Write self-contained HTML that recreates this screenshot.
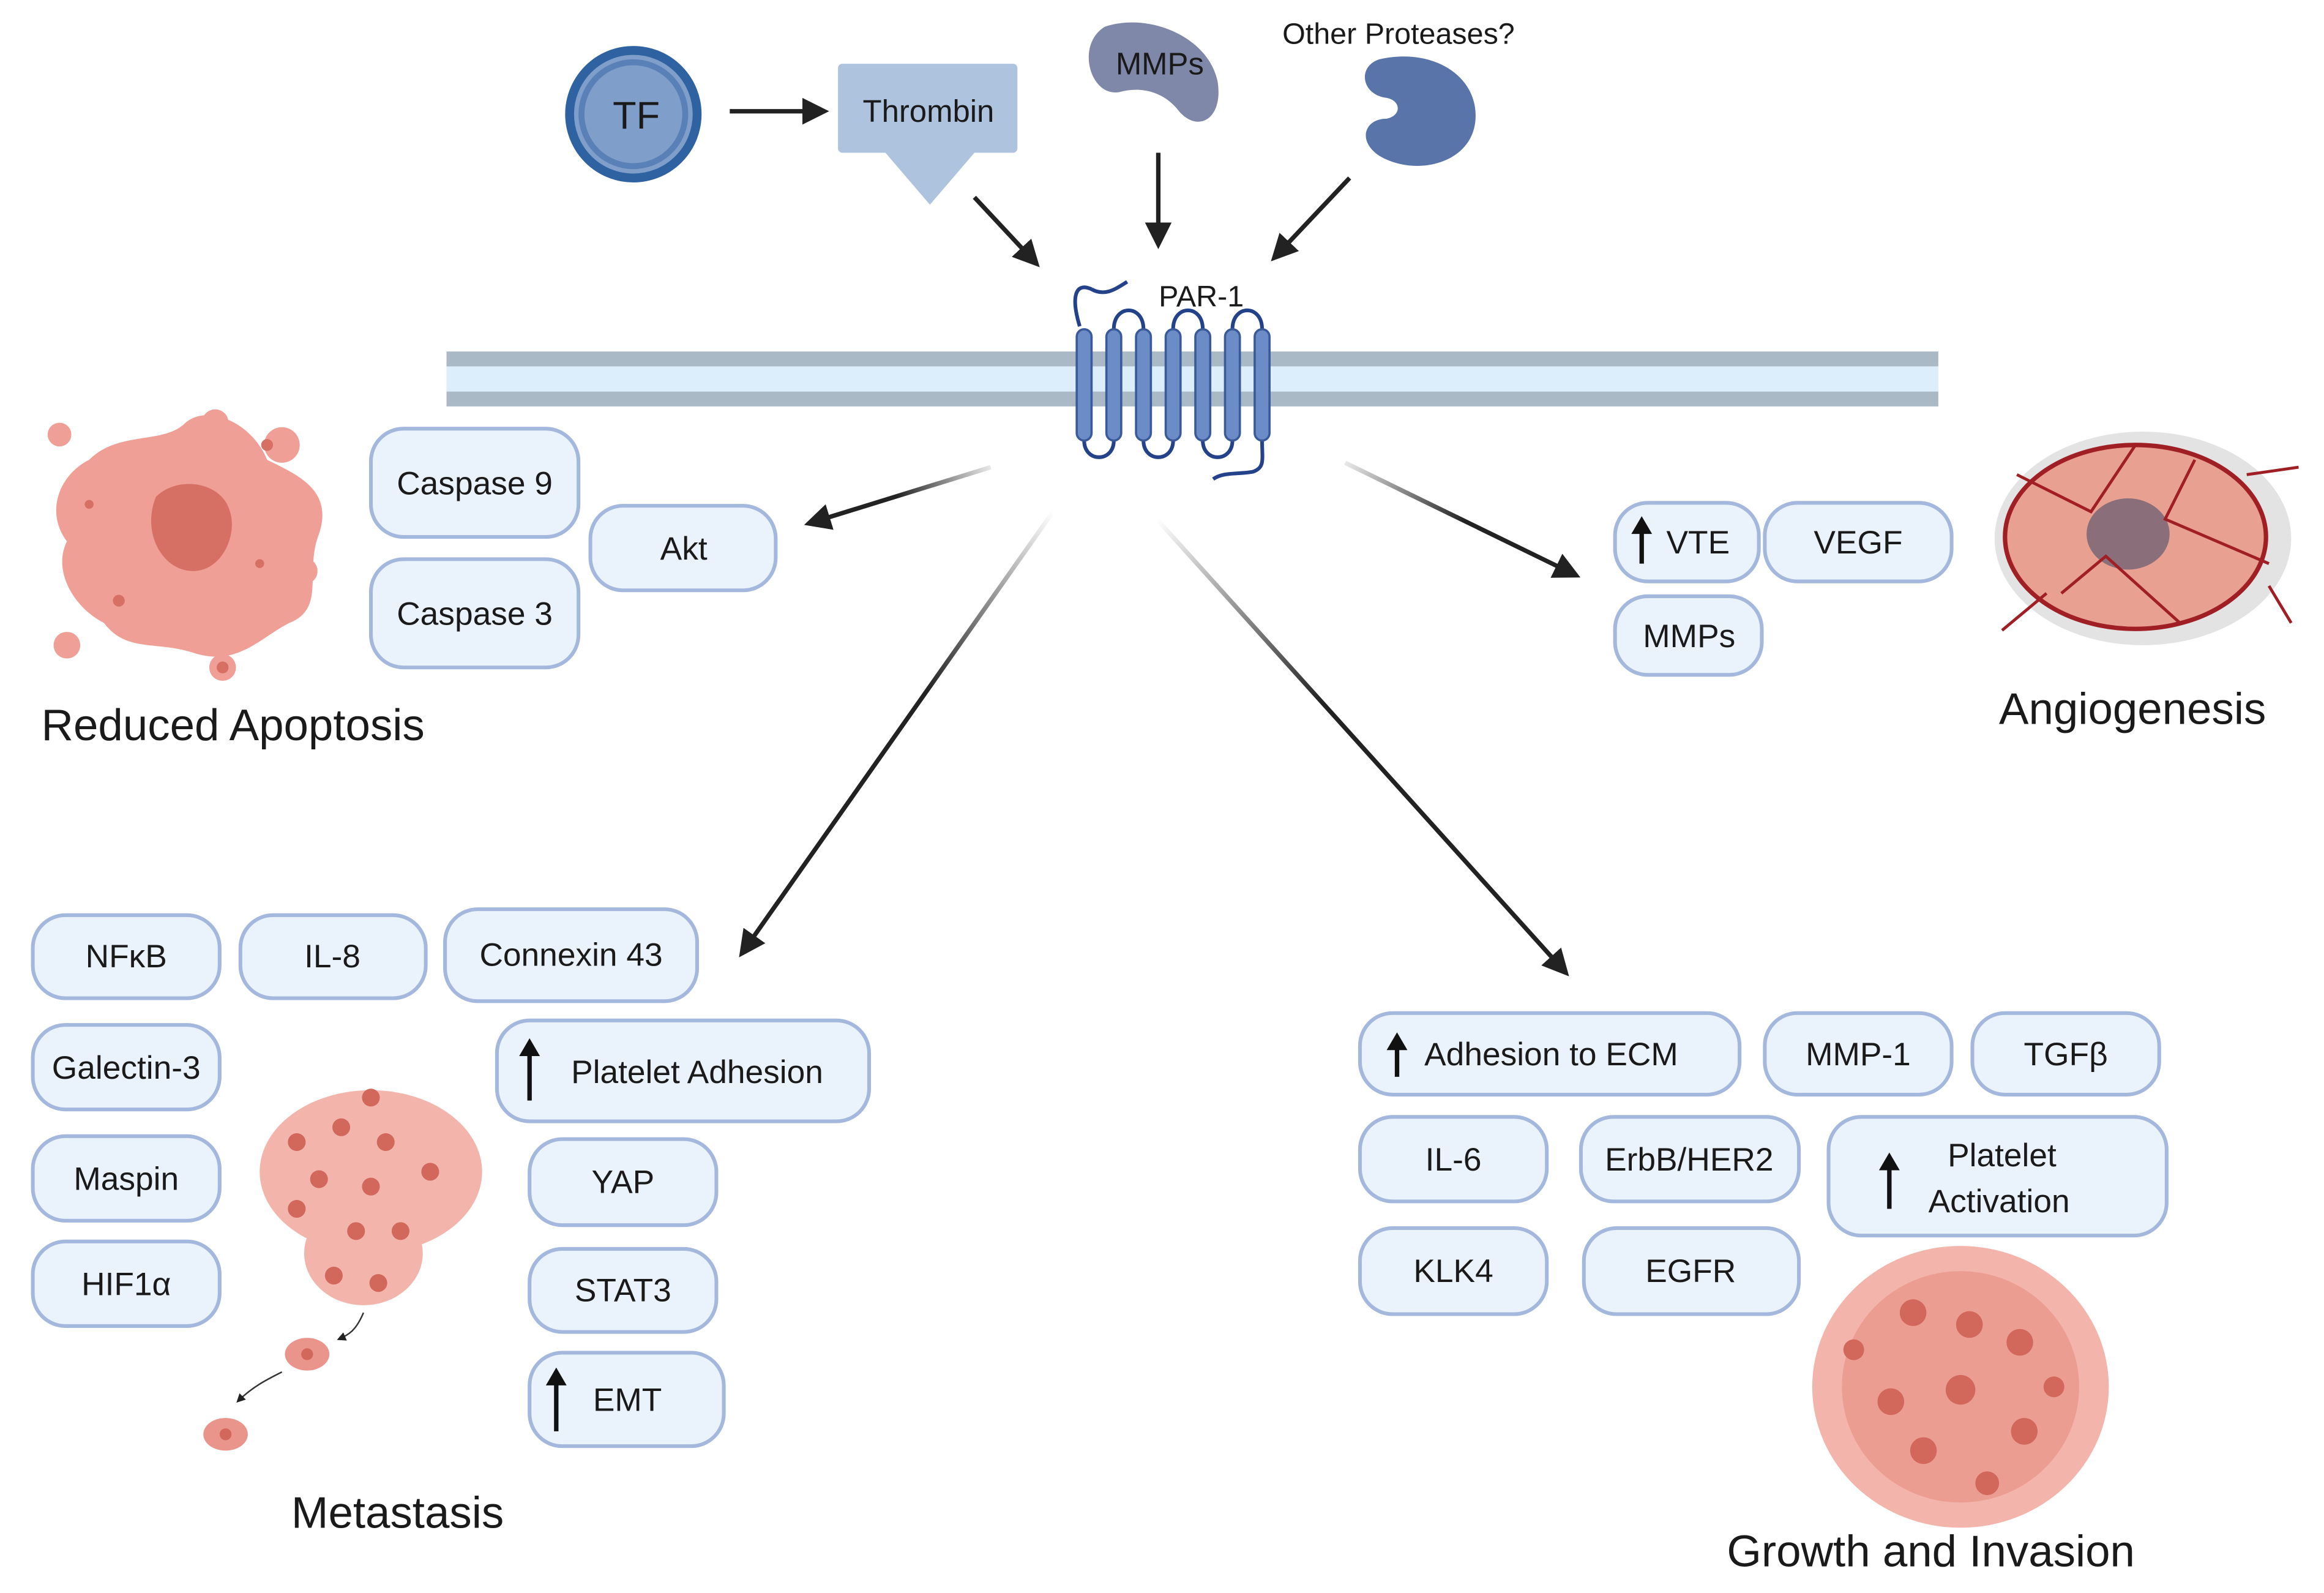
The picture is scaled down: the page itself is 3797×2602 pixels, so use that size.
<!DOCTYPE html>
<html><head><meta charset="utf-8"><style>
html,body{margin:0;padding:0;background:#fff;}
svg{display:block;}
text{font-family:"Liberation Sans",sans-serif;fill:#1a1a1a;}
.p{fill:#eaf2fb;stroke:#a3b8dc;stroke-width:2.5;}
.t{font-size:22px;text-anchor:middle;dominant-baseline:central;}
.big{font-size:30px;text-anchor:middle;}
.ar{stroke:#222;stroke-width:3;fill:none;marker-end:url(#ah);}
.nuc{fill:#d2675c;}
</style></head><body>
<svg width="3797" height="2602" viewBox="0 0 1567 1074" xmlns="http://www.w3.org/2000/svg">
<defs>
<marker id="ah" markerWidth="6" markerHeight="6" refX="5" refY="3" orient="auto" markerUnits="strokeWidth"><path d="M0,0 L6,3 L0,6 Z" fill="#222"/></marker>
<linearGradient id="g1" x1="710" y1="345" x2="497" y2="648" gradientUnits="userSpaceOnUse"><stop offset="0" stop-color="#222" stop-opacity="0"/><stop offset="0.4" stop-color="#222"/></linearGradient>
<linearGradient id="g2" x1="780" y1="350" x2="1060" y2="660" gradientUnits="userSpaceOnUse"><stop offset="0" stop-color="#222" stop-opacity="0"/><stop offset="0.4" stop-color="#222"/></linearGradient>
<linearGradient id="g3" x1="668" y1="315" x2="540" y2="354" gradientUnits="userSpaceOnUse"><stop offset="0" stop-color="#222" stop-opacity="0.1"/><stop offset="0.5" stop-color="#222"/></linearGradient>
<linearGradient id="g4" x1="907" y1="312" x2="1068" y2="390" gradientUnits="userSpaceOnUse"><stop offset="0" stop-color="#222" stop-opacity="0.1"/><stop offset="0.5" stop-color="#222"/></linearGradient>
</defs>

<circle cx="427" cy="77" r="43" fill="#7f9ec9" stroke="#2f62a0" stroke-width="6"/>
<circle cx="427" cy="77" r="35" fill="none" stroke="#5a80b8" stroke-width="4"/>
<text x="429" y="78" class="t" style="font-size:26px">TF</text>
<line x1="492" y1="75" x2="556" y2="75" class="ar"/>
<rect x="565" y="43" width="121" height="60" rx="3" fill="#adc3de"/>
<path d="M597,103 L657,103 L627,138 Z" fill="#adc3de"/>
<text x="626" y="75" class="t" style="font-size:21px">Thrombin</text>
<path d="M745,18 C775,8 815,25 821,55 C825,80 808,90 795,75 C785,62 770,58 755,62 C735,66 725,30 745,18 Z" fill="#7f88a8"/>
<text x="782" y="43" class="t" style="font-size:21px">MMPs</text>
<text x="943" y="23" class="t" style="font-size:20px">Other Proteases?</text>
<path d="M930,40 C965,32 995,50 995,78 C995,110 955,120 930,105 C915,95 920,80 935,80 C945,78 945,68 935,66 C918,64 915,45 930,40 Z" fill="#5874a9"/>
<line x1="657" y1="133" x2="699" y2="178" class="ar"/>
<line x1="781" y1="103" x2="781" y2="165" class="ar"/>
<line x1="910" y1="120" x2="859" y2="174" class="ar"/>

<rect x="301" y="237" width="1006" height="37" fill="#dcedfb"/>
<rect x="301" y="237" width="1006" height="10" fill="#a9b9c6"/>
<rect x="301" y="264" width="1006" height="10" fill="#a9b9c6"/>
<g fill="none" stroke="#23428a" stroke-width="2.5">
<path d="M736,195 C745,200 752,195 760,190 M736,195 C725,190 722,200 728,220"/>
<path d="M751,222 C751,205 771,205 771,222 M791,222 C791,205 811,205 811,222 M831,222 C831,205 851,205 851,222"/>
<path d="M731,297 C731,312 751,312 751,297 M771,297 C771,312 791,312 791,297 M811,297 C811,312 831,312 831,297"/>
<path d="M851,297 C851,310 853,315 845,318 C835,320 825,318 818,323"/>
</g>
<g fill="#6b8cc7" stroke="#3a5a9a" stroke-width="1.5">
<rect x="726" y="222" width="10" height="75" rx="5"/><rect x="746" y="222" width="10" height="75" rx="5"/>
<rect x="766" y="222" width="10" height="75" rx="5"/><rect x="786" y="222" width="10" height="75" rx="5"/>
<rect x="806" y="222" width="10" height="75" rx="5"/><rect x="826" y="222" width="10" height="75" rx="5"/>
<rect x="846" y="222" width="10" height="75" rx="5"/>
</g>
<text x="810" y="200" class="t" style="font-size:20px">PAR-1</text>

<line x1="668" y1="315" x2="545" y2="353" stroke="url(#g3)" stroke-width="3" marker-end="url(#ah)"/>
<line x1="710" y1="345" x2="500" y2="643" stroke="url(#g1)" stroke-width="3" marker-end="url(#ah)"/>
<line x1="780" y1="350" x2="1056" y2="656" stroke="url(#g2)" stroke-width="3" marker-end="url(#ah)"/>
<line x1="907" y1="312" x2="1063" y2="388" stroke="url(#g4)" stroke-width="3" marker-end="url(#ah)"/>

<path d="M60,310 C80,290 110,300 125,285 C140,272 170,285 180,310 C200,320 225,330 215,360 C205,385 220,410 195,420 C175,430 160,450 130,440 C105,432 85,440 70,420 C50,410 35,385 45,365 C30,345 40,320 60,310 Z" fill="#ef9f95"/>
<path d="M105,335 C120,320 150,325 155,345 C160,360 150,385 130,385 C110,385 95,360 105,335 Z" fill="#d77064"/>
<g fill="#ef9f95"><circle cx="40" cy="293" r="8"/><circle cx="145" cy="285" r="9"/><circle cx="190" cy="300" r="12"/><circle cx="45" cy="435" r="9"/><circle cx="150" cy="450" r="9"/><circle cx="205" cy="385" r="9"/></g>
<g fill="#d77064"><circle cx="60" cy="340" r="3"/><circle cx="180" cy="300" r="4"/><circle cx="80" cy="405" r="4"/><circle cx="175" cy="380" r="3"/><circle cx="150" cy="450" r="4"/></g>
<rect x="250" y="289" width="140" height="73" rx="22" class="p"/><text x="320" y="326" class="t">Caspase 9</text>
<rect x="250" y="377" width="140" height="73" rx="22" class="p"/><text x="320" y="414" class="t">Caspase 3</text>
<rect x="398" y="341" width="125" height="57" rx="22" class="p"/><text x="461" y="370" class="t">Akt</text>
<text x="157" y="499" class="big">Reduced Apoptosis</text>

<ellipse cx="1445" cy="363" rx="100" ry="72" fill="#e3e3e3"/>
<ellipse cx="1440" cy="362" rx="88" ry="62" fill="#e8a090" stroke="#9f1f25" stroke-width="3"/>
<ellipse cx="1435" cy="360" rx="28" ry="24" fill="#8a6f7b"/>
<g stroke="#9f1f25" stroke-width="2" fill="none"><path d="M1360,320 L1410,345 L1440,300 M1480,310 L1460,350 L1530,380 M1390,400 L1420,375 L1470,420 M1350,425 L1380,400 M1515,320 L1550,315 M1530,395 L1545,420"/></g>
<rect x="1089" y="339" width="97" height="53" rx="22" class="p"/><text x="1145" y="366" class="t">VTE</text>
<path d="M1107,380 L1107,355" stroke="#111" stroke-width="3"/><path d="M1100,360 L1107,348 L1114,360 Z" fill="#111"/>
<rect x="1190" y="339" width="126" height="53" rx="22" class="p"/><text x="1253" y="366" class="t">VEGF</text>
<rect x="1089" y="402" width="99" height="53" rx="22" class="p"/><text x="1139" y="429" class="t">MMPs</text>
<text x="1438" y="488" class="big">Angiogenesis</text>

<rect x="22" y="617" width="126" height="56" rx="22" class="p"/><text x="85" y="645" class="t">NFκB</text>
<rect x="162" y="617" width="125" height="56" rx="22" class="p"/><text x="224" y="645" class="t">IL-8</text>
<rect x="300" y="613" width="170" height="62" rx="22" class="p"/><text x="385" y="644" class="t">Connexin 43</text>
<rect x="22" y="691" width="126" height="57" rx="22" class="p"/><text x="85" y="720" class="t">Galectin-3</text>
<rect x="22" y="766" width="126" height="57" rx="22" class="p"/><text x="85" y="795" class="t">Maspin</text>
<rect x="22" y="837" width="126" height="57" rx="22" class="p"/><text x="85" y="866" class="t">HIF1α</text>
<rect x="335" y="688" width="251" height="68" rx="22" class="p"/><text x="470" y="723" class="t">Platelet Adhesion</text>
<path d="M357,742 L357,708" stroke="#111" stroke-width="3"/><path d="M350,712 L357,700 L364,712 Z" fill="#111"/>
<rect x="357" y="768" width="126" height="58" rx="22" class="p"/><text x="420" y="797" class="t">YAP</text>
<rect x="357" y="842" width="126" height="56" rx="22" class="p"/><text x="420" y="870" class="t">STAT3</text>
<rect x="357" y="912" width="131" height="63" rx="22" class="p"/><text x="423" y="944" class="t">EMT</text>
<path d="M375,965 L375,930" stroke="#111" stroke-width="3"/><path d="M368,934 L375,922 L382,934 Z" fill="#111"/>
<g>
<ellipse cx="250" cy="790" rx="75" ry="55" fill="#f3b5ab"/>
<ellipse cx="245" cy="845" rx="40" ry="35" fill="#f3b5ab"/>
<g class="nuc"><circle cx="200" cy="770" r="6"/><circle cx="230" cy="760" r="6"/><circle cx="260" cy="770" r="6"/><circle cx="290" cy="790" r="6"/><circle cx="215" cy="795" r="6"/><circle cx="250" cy="800" r="6"/><circle cx="240" cy="830" r="6"/><circle cx="270" cy="830" r="6"/><circle cx="225" cy="860" r="6"/><circle cx="255" cy="865" r="6"/><circle cx="200" cy="815" r="6"/><circle cx="250" cy="740" r="6"/></g>
<ellipse cx="207" cy="913" rx="15" ry="11" fill="#e9958c"/><circle cx="207" cy="913" r="4" class="nuc"/>
<ellipse cx="152" cy="967" rx="15" ry="11" fill="#e9958c"/><circle cx="152" cy="967" r="4" class="nuc"/>
<path d="M245,885 C240,897 235,900 228,903" stroke="#333" stroke-width="1" fill="none" marker-end="url(#ah)"/>
<path d="M190,925 C180,930 170,935 160,945" stroke="#333" stroke-width="1" fill="none" marker-end="url(#ah)"/>
</g>
<text x="268" y="1030" class="big">Metastasis</text>

<rect x="917" y="683" width="256" height="55" rx="22" class="p"/><text x="1046" y="711" class="t">Adhesion to ECM</text>
<path d="M942,726 L942,704" stroke="#111" stroke-width="3"/><path d="M935,708 L942,696 L949,708 Z" fill="#111"/>
<rect x="1190" y="683" width="126" height="55" rx="22" class="p"/><text x="1253" y="711" class="t">MMP-1</text>
<rect x="1330" y="683" width="126" height="55" rx="22" class="p"/><text x="1393" y="711" class="t">TGFβ</text>
<rect x="917" y="753" width="126" height="57" rx="22" class="p"/><text x="980" y="782" class="t">IL-6</text>
<rect x="1066" y="753" width="147" height="57" rx="22" class="p"/><text x="1139" y="782" class="t">ErbB/HER2</text>
<rect x="1233" y="753" width="228" height="80" rx="22" class="p"/><text x="1350" y="779" class="t">Platelet</text><text x="1348" y="810" class="t">Activation</text>
<path d="M1274,815 L1274,785" stroke="#111" stroke-width="3"/><path d="M1267,789 L1274,777 L1281,789 Z" fill="#111"/>
<rect x="917" y="828" width="126" height="58" rx="22" class="p"/><text x="980" y="857" class="t">KLK4</text>
<rect x="1068" y="828" width="145" height="58" rx="22" class="p"/><text x="1140" y="857" class="t">EGFR</text>
<ellipse cx="1322" cy="935" rx="100" ry="95" fill="#f3b5ab"/>
<ellipse cx="1322" cy="935" rx="80" ry="78" fill="#ec9d92"/>
<g class="nuc"><circle cx="1290" cy="885" r="9"/><circle cx="1328" cy="893" r="9"/><circle cx="1362" cy="905" r="9"/><circle cx="1275" cy="945" r="9"/><circle cx="1322" cy="937" r="10"/><circle cx="1365" cy="965" r="9"/><circle cx="1297" cy="978" r="9"/><circle cx="1340" cy="1000" r="8"/><circle cx="1250" cy="910" r="7"/><circle cx="1385" cy="935" r="7"/></g>
<text x="1302" y="1056" class="big">Growth and Invasion</text>
</svg>
</body></html>
